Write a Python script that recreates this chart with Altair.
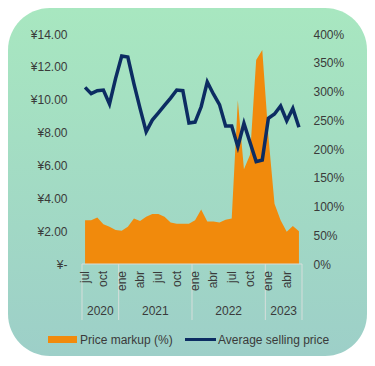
import altair as alt
import pandas as pd

# ---- data ----
months = ["jul", "ago", "sep", "oct", "nov", "dic",
          "ene", "feb", "mar", "abr", "may", "jun", "jul", "ago", "sep", "oct", "nov", "dic",
          "ene", "feb", "mar", "abr", "may", "jun", "jul", "ago", "sep", "oct", "nov", "dic",
          "ene", "feb", "mar", "abr", "may", "jun"]
years = ["2020"] * 6 + ["2021"] * 12 + ["2022"] * 12 + ["2023"] * 6

avg_price = [10.75, 10.37, 10.55, 10.59, 9.74, 11.30,
             12.66, 12.60, 10.97, 9.47, 8.05, 8.76, 9.20, 9.65, 10.10, 10.59, 10.55, 8.58,
             8.64, 9.57, 11.08, 10.35, 9.70, 8.40, 8.40, 7.14, 8.56, 7.40, 6.23, 6.33,
             8.87, 9.13, 9.62, 8.72, 9.47, 8.32]
markup_pct = [76, 76, 81, 69, 65, 59,
              58, 65, 79, 75, 82, 87, 87, 82, 72, 70, 70, 70,
              76, 95, 74, 74, 72, 77, 79, 285, 165, 190, 355, 372,
              222, 105, 76, 56, 66, 57]

year_labels = ["2020", "2021", "2022", "2023"]
year_bounds = [-0.5, 5.5, 17.5, 29.5, 35.5]

price_ticks = [0, 2, 4, 6, 8, 10, 12, 14]
pct_ticks = [0, 50, 100, 150, 200, 250, 300, 350, 400]

legend_labels = ["Price markup (%)", "Average selling price"]

# ---- style ----
ORANGE = "#F18A0C"
NAVY = "#0C2C62"
TXT = "#3a3a3a"
SEP = "#d6dedb"
FONT = "Liberation Sans"

df = pd.DataFrame({
    "idx": list(range(len(months))),
    "month": months,
    "year": years,
    "price": avg_price,
    "markup": markup_pct,
})
lab_df = df[df["idx"] % 3 == 0]
yr_df = pd.DataFrame({
    "year": year_labels,
    "center": [(year_bounds[i] + year_bounds[i + 1]) / 2 for i in range(len(year_labels))],
})
sep_df = pd.DataFrame({"pos": year_bounds})

xs = alt.Scale(domain=[-0.5, 35.5], nice=False, zero=False)

bg = alt.Chart(pd.DataFrame({"a": [0]})).mark_rect(
    cornerRadius=42,
    fill=alt.Gradient(
        gradient="linear",
        stops=[alt.GradientStop(color="#a8e7c0", offset=0),
               alt.GradientStop(color="#9dcfc8", offset=1)],
        x1=0, x2=0, y1=0, y2=1,
    ),
).encode(x=alt.value(-74), x2=alt.value(285), y=alt.value(-26), y2=alt.value(322))

area = alt.Chart(df).mark_area(color=ORANGE, opacity=1).encode(
    x=alt.X("idx:Q", scale=xs, axis=None),
    y=alt.Y("markup:Q", scale=alt.Scale(domain=[0, 400], nice=False),
            axis=alt.Axis(orient="right", values=pct_ticks, labelExpr="datum.value + '%'",
                          title=None, domain=False, ticks=False, grid=False, zindex=1,
                          labelPadding=11, labelFontSize=12, labelColor=TXT, labelFont=FONT)),
)

line = alt.Chart(df).mark_line(color=NAVY, strokeWidth=3.5).encode(
    x=alt.X("idx:Q", scale=xs, axis=None),
    y=alt.Y("price:Q", scale=alt.Scale(domain=[0, 14], nice=False),
            axis=alt.Axis(orient="left", values=price_ticks,
                          labelExpr="datum.value == 0 ? '¥-\u00a0\u00a0' : '¥' + format(datum.value, '.2f')",
                          title=None, domain=False, ticks=False, grid=False, zindex=1,
                          labelPadding=15, labelFontSize=12, labelColor=TXT, labelFont=FONT)),
)

baseline = alt.Chart(pd.DataFrame({"a": [0]})).mark_rule(color=SEP, strokeWidth=1).encode(
    x=alt.value(0), x2=alt.value(220), y=alt.value(230))

seps = alt.Chart(sep_df).mark_rule(color=SEP, strokeWidth=1).encode(
    x=alt.X("pos:Q", scale=xs, axis=None), y=alt.value(230), y2=alt.value(286))

mlabels = alt.Chart(lab_df).mark_text(
    angle=270, align="right", baseline="middle", fontSize=12, font=FONT, color=TXT
).encode(x=alt.X("idx:Q", scale=xs, axis=None), y=alt.value(237), text="month:N")

ylabels = alt.Chart(yr_df).mark_text(
    align="center", baseline="middle", fontSize=12, font=FONT, color=TXT
).encode(x=alt.X("center:Q", scale=xs, axis=None), y=alt.value(277), text="year:N")

leg_sw = alt.Chart(pd.DataFrame({"a": [0]})).mark_rect(color=ORANGE).encode(
    x=alt.value(-34), x2=alt.value(-5), y=alt.value(302), y2=alt.value(309))
leg_ln = alt.Chart(pd.DataFrame({"a": [0]})).mark_rule(color=NAVY, strokeWidth=3).encode(
    x=alt.value(103), x2=alt.value(134), y=alt.value(305.5))
leg_t1 = alt.Chart(pd.DataFrame({"t": [legend_labels[0]]})).mark_text(
    align="left", baseline="middle", fontSize=12, font=FONT, color=TXT
).encode(x=alt.value(-2), y=alt.value(305.5), text="t:N")
leg_t2 = alt.Chart(pd.DataFrame({"t": [legend_labels[1]]})).mark_text(
    align="left", baseline="middle", fontSize=12, font=FONT, color=TXT
).encode(x=alt.value(136), y=alt.value(305.5), text="t:N")

chart = alt.layer(
    bg, area, line, baseline, seps, mlabels, ylabels, leg_sw, leg_ln, leg_t1, leg_t2
).resolve_scale(y="independent").properties(
    width=220, height=230,
    padding={"left": 74, "top": 26, "right": 65, "bottom": 92},
    autosize=alt.AutoSizeParams(type="none"),
).configure_view(stroke=None).configure(background="white")

chart.save("out.html", embed_options={"renderer": "svg", "actions": False})
